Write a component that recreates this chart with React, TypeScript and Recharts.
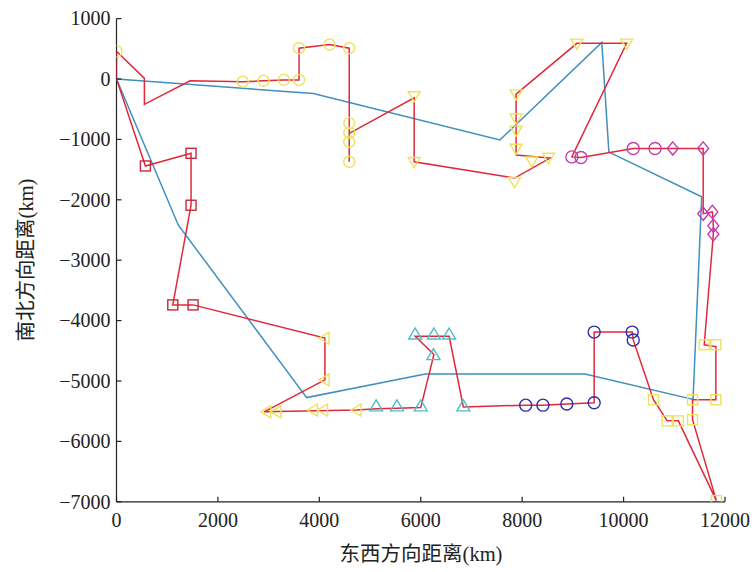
import { Label, Scatter, ScatterChart, XAxis, YAxis } from 'recharts';

type Pt = { x: number; y: number };

const xTicks = [0, 2000, 4000, 6000, 8000, 10000, 12000];
const yTicks = [1000, 0, -1000, -2000, -3000, -4000, -5000, -6000, -7000];

// planned route (blue)
const blueRoute: Pt[] = [
  { x: 0, y: 0 }, { x: 3880, y: -240 }, { x: 7560, y: -1010 }, { x: 9570, y: 605 },
  { x: 9710, y: -1210 }, { x: 11540, y: -1950 }, { x: 11370, y: -5305 }, { x: 9240, y: -4885 },
  { x: 6090, y: -4885 }, { x: 3750, y: -5275 }, { x: 1220, y: -2420 }, { x: 0, y: 0 },
];

// actual route (red)
const redRoute: Pt[] = [
  { x: 0, y: 0 }, { x: 0, y: 460 }, { x: 550, y: 10 }, { x: 550, y: -420 }, { x: 1450, y: -30 },
  { x: 2490, y: -45 }, { x: 2900, y: -30 }, { x: 3300, y: -15 }, { x: 3600, y: -15 },
  { x: 3600, y: 510 }, { x: 4200, y: 570 }, { x: 4590, y: 510 }, { x: 4590, y: -1370 },
  { x: 4590, y: -900 }, { x: 5870, y: -310 }, { x: 5870, y: -1370 }, { x: 7850, y: -1640 },
  { x: 8550, y: -1310 }, { x: 7880, y: -1260 }, { x: 7880, y: -250 }, { x: 9080, y: 590 },
  { x: 10060, y: 590 }, { x: 8980, y: -1290 }, { x: 9160, y: -1300 }, { x: 10190, y: -1150 },
  { x: 10620, y: -1150 }, { x: 10970, y: -1150 }, { x: 11570, y: -1150 }, { x: 11570, y: -2230 },
  { x: 11750, y: -2200 }, { x: 11770, y: -2430 }, { x: 11770, y: -2570 }, { x: 11590, y: -4400 },
  { x: 11820, y: -4430 }, { x: 11820, y: -5310 }, { x: 11360, y: -5310 }, { x: 11360, y: -5640 },
  { x: 11830, y: -6980 }, { x: 11080, y: -5660 }, { x: 10860, y: -5660 }, { x: 10590, y: -5310 },
  { x: 10190, y: -4320 }, { x: 10170, y: -4190 }, { x: 9420, y: -4190 }, { x: 9420, y: -5360 },
  { x: 8880, y: -5380 }, { x: 8410, y: -5400 }, { x: 8070, y: -5400 }, { x: 6840, y: -5430 },
  { x: 6560, y: -4260 }, { x: 5890, y: -4260 }, { x: 6260, y: -4560 }, { x: 6000, y: -5440 },
  { x: 5530, y: -5450 }, { x: 5120, y: -5460 }, { x: 4740, y: -5480 }, { x: 2910, y: -5510 },
  { x: 4110, y: -4980 }, { x: 4110, y: -4290 }, { x: 1510, y: -3740 }, { x: 1110, y: -3740 },
  { x: 1470, y: -2090 }, { x: 1470, y: -1230 }, { x: 570, y: -1440 }, { x: 0, y: 0 },
];

const yellowCircles: Pt[] = [
  { x: 0, y: 460 }, { x: 2490, y: -45 }, { x: 2900, y: -30 }, { x: 3300, y: -15 }, { x: 3600, y: -15 },
  { x: 3600, y: 510 }, { x: 4200, y: 570 }, { x: 4590, y: 510 }, { x: 4590, y: -730 },
  { x: 4590, y: -890 }, { x: 4590, y: -1040 }, { x: 4590, y: -1370 },
];
const yellowTriDown: Pt[] = [
  { x: 5870, y: -280 }, { x: 5870, y: -1370 }, { x: 7880, y: -250 }, { x: 7880, y: -650 },
  { x: 7880, y: -850 }, { x: 7880, y: -1150 }, { x: 8190, y: -1360 }, { x: 8520, y: -1300 },
  { x: 7850, y: -1700 }, { x: 9080, y: 590 }, { x: 10060, y: 590 },
];
const yellowSquares: Pt[] = [
  { x: 11590, y: -4400 }, { x: 11820, y: -4400 }, { x: 11820, y: -5310 }, { x: 11360, y: -5310 },
  { x: 11360, y: -5640 }, { x: 11830, y: -6980 }, { x: 11080, y: -5660 }, { x: 10860, y: -5660 },
  { x: 10590, y: -5310 },
];
const yellowTriLeft: Pt[] = [
  { x: 4740, y: -5480 }, { x: 3880, y: -5480 }, { x: 4080, y: -5480 }, { x: 2960, y: -5510 },
  { x: 3160, y: -5510 }, { x: 4110, y: -4980 }, { x: 4110, y: -4290 },
];
const cyanTriangles: Pt[] = [
  { x: 5890, y: -4230 }, { x: 6260, y: -4230 }, { x: 6560, y: -4230 }, { x: 6250, y: -4570 },
  { x: 6000, y: -5420 }, { x: 6840, y: -5420 }, { x: 5530, y: -5420 }, { x: 5120, y: -5420 },
];
const blueCircles: Pt[] = [
  { x: 10190, y: -4320 }, { x: 10170, y: -4190 }, { x: 9420, y: -4190 }, { x: 9420, y: -5360 },
  { x: 8880, y: -5380 }, { x: 8410, y: -5400 }, { x: 8070, y: -5400 },
];
const magentaCircles: Pt[] = [
  { x: 8980, y: -1290 }, { x: 9160, y: -1300 }, { x: 10190, y: -1150 }, { x: 10620, y: -1150 },
];
const magentaDiamonds: Pt[] = [
  { x: 10970, y: -1150 }, { x: 11570, y: -1150 }, { x: 11570, y: -2230 }, { x: 11750, y: -2200 },
  { x: 11770, y: -2430 }, { x: 11770, y: -2570 },
];
const redSquares: Pt[] = [
  { x: 1510, y: -3740 }, { x: 1110, y: -3740 }, { x: 1470, y: -2090 }, { x: 1470, y: -1230 },
  { x: 570, y: -1440 },
];

const PLOT_LEFT = 116.5;
const PLOT_BOTTOM = 501.8;
const SERIF = '"Liberation Serif", "Times New Roman", serif';
const LABEL_FONT = '"Liberation Serif", "Noto Sans CJK SC", serif';
const AXIS = '#222';

const fmt = (v: number) => String(v).replace('-', '\u2212');

const YTick = (props: any) => {
  const { y, payload } = props;
  return (
    <g>
      <line x1={PLOT_LEFT} x2={PLOT_LEFT + 5} y1={y} y2={y} stroke={AXIS} strokeWidth={1.2} />
      <text x={PLOT_LEFT - 6} y={y} dy="0.34em" textAnchor="end" fontSize={20} fontFamily={SERIF} fill={AXIS}>
        {fmt(payload.value)}
      </text>
    </g>
  );
};

const XTick = (props: any) => {
  const { x, payload } = props;
  return (
    <g>
      <line x1={x} x2={x} y1={PLOT_BOTTOM} y2={PLOT_BOTTOM - 5} stroke={AXIS} strokeWidth={1.2} />
      <text x={x} y={PLOT_BOTTOM + 25} textAnchor="middle" fontSize={20} fontFamily={SERIF} fill={AXIS}>
        {fmt(payload.value)}
      </text>
    </g>
  );
};

const noDot = () => <g />;

type Kind = 'circle' | 'square' | 'diamond' | 'triUp' | 'triDown' | 'triLeft';

const marker = (kind: Kind, color: string, s: number) => (props: any) => {
  const { cx, cy } = props;
  const common = { fill: 'none', stroke: color, strokeWidth: 1.4 };
  if (kind === 'circle') return <circle cx={cx} cy={cy} r={s} {...common} />;
  if (kind === 'square') return <rect x={cx - s} y={cy - s} width={2 * s} height={2 * s} {...common} />;
  let pts: number[][] = [];
  if (kind === 'diamond') pts = [[0, -s * 1.2], [s, 0], [0, s * 1.2], [-s, 0]];
  if (kind === 'triUp') pts = [[0, -s], [s, s * 0.7], [-s, s * 0.7]];
  if (kind === 'triDown') pts = [[0, s], [s, -s * 0.7], [-s, -s * 0.7]];
  if (kind === 'triLeft') pts = [[-s, 0], [s * 0.7, -s], [s * 0.7, s]];
  return <polygon points={pts.map(([a, b]) => `${cx + a},${cy + b}`).join(' ')} {...common} />;
};

const YELLOW = '#eee25a';
const RED = '#e0283a';
const BLUE = '#3f8fc0';

export default function App() {
  return (
    <div style={{ position: 'absolute', left: 0, top: 0, width: 752, height: 572, background: '#fff' }}>
      <ScatterChart width={752} height={572} margin={{ top: 18.6, right: 27, bottom: 0, left: 0 }}>
        <XAxis
          type="number"
          dataKey="x"
          domain={[0, 12000]}
          ticks={xTicks}
          interval={0}
          height={70.2}
          tick={XTick}
          tickLine={false}
          axisLine={{ stroke: AXIS, strokeWidth: 1.2 }}
          allowDataOverflow
        >
          <Label
            content={() => (
              <text x={421} y={561} textAnchor="middle" fontSize={20.5} fontFamily={LABEL_FONT} fill={AXIS}>
                东西方向距离(km)
              </text>
            )}
          />
        </XAxis>
        <YAxis
          type="number"
          dataKey="y"
          domain={[-7000, 1000]}
          ticks={yTicks}
          interval={0}
          width={PLOT_LEFT}
          tick={YTick}
          tickLine={false}
          axisLine={{ stroke: AXIS, strokeWidth: 1.2 }}
          allowDataOverflow
        >
          <Label
            content={() => (
              <text
                x={33}
                y={260}
                transform="rotate(-90 33 260)"
                textAnchor="middle"
                fontSize={20.5}
                fontFamily={LABEL_FONT}
                fill={AXIS}
              >
                南北方向距离(km)
              </text>
            )}
          />
        </YAxis>
        <Scatter data={blueRoute} line={{ stroke: BLUE, strokeWidth: 1.5 }} shape={noDot} isAnimationActive={false} />
        <Scatter data={redRoute} line={{ stroke: RED, strokeWidth: 1.5 }} shape={noDot} isAnimationActive={false} />
        <Scatter data={yellowCircles} shape={marker('circle', YELLOW, 5.5)} isAnimationActive={false} />
        <Scatter data={yellowTriDown} shape={marker('triDown', YELLOW, 6)} isAnimationActive={false} />
        <Scatter data={yellowSquares} shape={marker('square', YELLOW, 5)} isAnimationActive={false} />
        <Scatter data={yellowTriLeft} shape={marker('triLeft', YELLOW, 6)} isAnimationActive={false} />
        <Scatter data={cyanTriangles} shape={marker('triUp', '#4cbfc6', 6.5)} isAnimationActive={false} />
        <Scatter data={blueCircles} shape={marker('circle', '#2d2fa8', 6)} isAnimationActive={false} />
        <Scatter data={magentaCircles} shape={marker('circle', '#c13fb2', 6)} isAnimationActive={false} />
        <Scatter data={magentaDiamonds} shape={marker('diamond', '#c13fb2', 5.5)} isAnimationActive={false} />
        <Scatter data={redSquares} shape={marker('square', '#c8283a', 5)} isAnimationActive={false} />
      </ScatterChart>
    </div>
  );
}
